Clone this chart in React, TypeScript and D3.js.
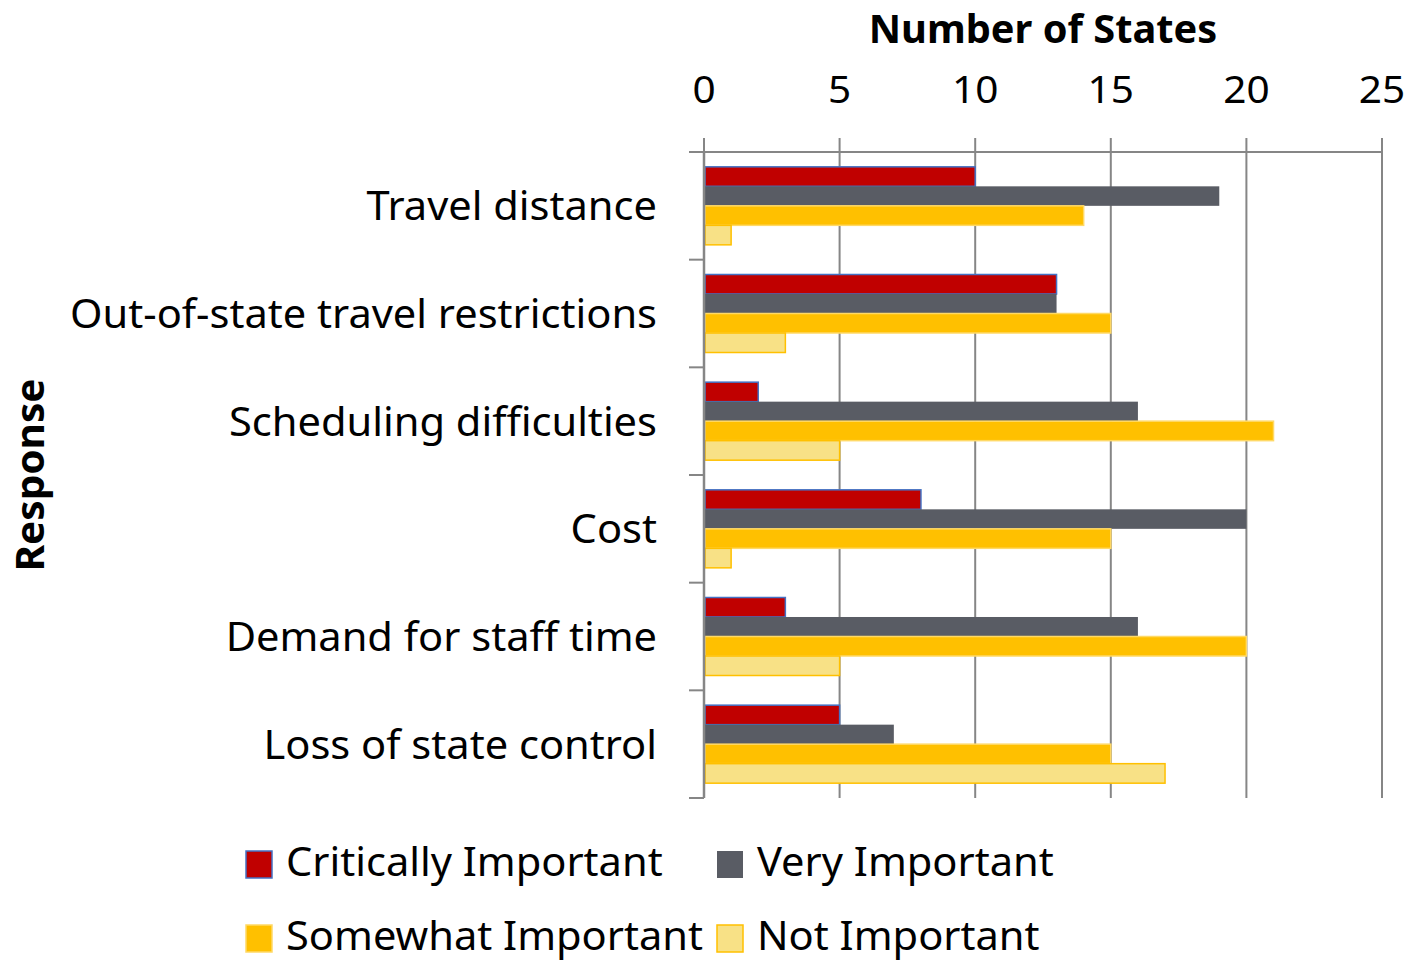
import React from "react";
import * as d3 from "d3";

const categories = [
  "Travel distance",
  "Out-of-state travel restrictions",
  "Scheduling difficulties",
  "Cost",
  "Demand for staff time",
  "Loss of state control",
];
const seriesNames = ["Critically Important", "Very Important", "Somewhat Important", "Not Important"];
const critically = [10, 13, 2, 8, 3, 5];
const very = [19, 13, 16, 20, 16, 7];
const somewhat = [14, 15, 21, 15, 20, 15];
const notImportant = [1, 3, 5, 1, 5, 17];
const xTicks = [0, 5, 10, 15, 20, 25];

const fills = ["#C00000", "#595C64", "#FFC000", "#F8E186"];
const strokes = ["#4472C4", "none", "#FFD966", "#FFC000"];

const W = 1411;
const H = 961;
const left = 704;
const right = 1382;
const top = 152;
const bottom = 798;
const FONT = "'Noto Sans', 'Open Sans', sans-serif";
const K = 1.04;

export default function App() {
  const allSeries = [critically, very, somewhat, notImportant];
  const x = d3.scaleLinear().domain([0, 25]).range([left, right]);
  const y = d3.scaleBand<string>().domain(categories).range([top, bottom]);
  const inner = d3
    .scaleBand<number>()
    .domain([0, 1, 2, 3])
    .range([0, y.bandwidth()])
    .paddingOuter(0.76)
    .paddingInner(0);
  const gridColor = "#868686";

  return (
    <svg width={W} height={H} style={{ position: "absolute", left: 0, top: 0, background: "#fff" }}>
      {/* gridlines */}
      {xTicks.map((t) => (
        <line key={"g" + t} x1={x(t)} x2={x(t)} y1={138} y2={bottom} stroke={gridColor} strokeWidth={2} />
      ))}
      {/* top axis line */}
      <line x1={689} x2={right} y1={top} y2={top} stroke={gridColor} strokeWidth={2} />
      {/* left axis ticks */}
      {categories.map((c) => (
        <line key={"t" + c} x1={689} x2={left} y1={y(c)!} y2={y(c)!} stroke={gridColor} strokeWidth={2} />
      ))}
      <line x1={689} x2={left} y1={bottom} y2={bottom} stroke={gridColor} strokeWidth={2} />

      {/* bars */}
      {categories.map((c, ci) =>
        allSeries.map((s, si) => (
          <rect
            key={c + si}
            x={x(0) + 1}
            y={y(c)! + inner(si)!}
            width={x(s[ci]) - x(0) - 1}
            height={inner.bandwidth()}
            fill={fills[si]}
            stroke={strokes[si]}
            strokeWidth={strokes[si] === "none" ? 0 : 1.5}
          />
        ))
      )}
      {/* left axis line */}
      <line x1={left} x2={left} y1={top} y2={bottom} stroke={gridColor} strokeWidth={2.5} />

      {/* tick labels */}
      {xTicks.map((t) => (
        <text key={"l" + t} x={0} y={0} textAnchor="middle" fontFamily={FONT} fontSize={39} fill="#000"
          transform={`translate(${x(t)},103) scale(${K},1)`}>
          {t}
        </text>
      ))}
      {/* title */}
      <text x={0} y={0} textAnchor="middle" fontFamily={FONT} fontWeight="bold" fontSize={39}
        transform={`translate(${(left + right) / 2},43) scale(1.02,1)`}>
        Number of States
      </text>
      <text x={0} y={0} textAnchor="middle" fontFamily={FONT} fontWeight="bold" fontSize={39}
        transform={`translate(44,${(top + bottom) / 2}) rotate(-90) scale(${K},1)`}>
        Response
      </text>

      {/* category labels */}
      {categories.map((c) => (
        <text key={"c" + c} x={0} y={0} textAnchor="end" fontFamily={FONT} fontSize={40}
          transform={`translate(657,${y(c)! + y.bandwidth() / 2 + 14.5}) scale(${K},1)`}>
          {c}
        </text>
      ))}

      {/* legend */}
      {seriesNames.map((n, i) => {
        const lx = i % 2 === 0 ? 246 : 717;
        const ly = i < 2 ? 851 : 925;
        return (
          <g key={"lg" + n}>
            <rect x={lx} y={ly} width={26} height={27} fill={fills[i]} stroke={strokes[i]}
              strokeWidth={strokes[i] === "none" ? 0 : 1.5} />
            <text x={0} y={0} fontFamily={FONT} fontSize={40}
              transform={`translate(${lx + 40},${ly + 25}) scale(${K},1)`}>
              {n}
            </text>
          </g>
        );
      })}
    </svg>
  );
}
